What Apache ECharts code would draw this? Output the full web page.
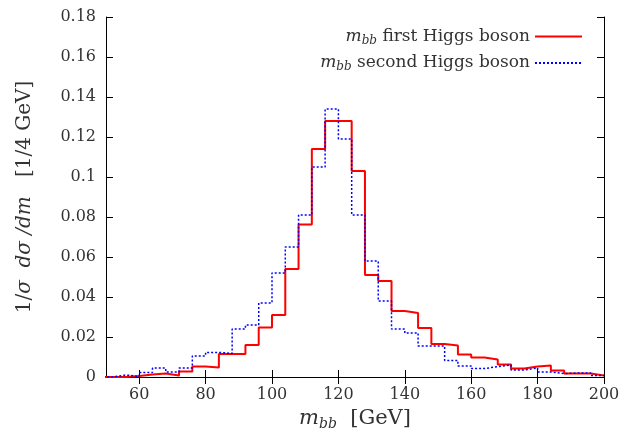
<!DOCTYPE html>
<html>
<head>
<meta charset="utf-8">
<script src="https://cdn.jsdelivr.net/npm/echarts@6/dist/echarts.min.js"></script>
<style>
  html, body { margin: 0; padding: 0; background: #fff; }
  #chart { width: 622px; height: 432px; }
</style>
</head>
<body>
<div id="chart"></div>
<script>
// bin left edges, 4 GeV wide
const binEdges = [48, 52, 56, 60, 64, 68, 72, 76, 80, 84, 88, 92, 96, 100, 104, 108, 112, 116, 120, 124,
  128, 132, 136, 140, 144, 148, 152, 156, 160, 164, 168, 172, 176, 180, 184, 188, 192, 196]
const lastEdge = 200

const firstHiggs = [0, 0, 0.0005, 0.0012, 0.0018, 0.0008, 0.0028, 0.0052, 0.0048, 0.0115, 0.0115, 0.016, 0.0247, 0.031,
  0.054, 0.0763, 0.114, 0.128, 0.128, 0.103, 0.051, 0.048, 0.033, 0.032, 0.0245, 0.0165, 0.0158, 0.0113,
  0.0098, 0.0088, 0.0063, 0.0043, 0.0052, 0.0058, 0.0032, 0.0018, 0.0018, 0.0008]
const secondHiggs = [0, 0.001, 0.0003, 0.0022, 0.0045, 0.0025, 0.0045, 0.0105, 0.0123, 0.0118, 0.024, 0.026, 0.037, 0.052,
  0.065, 0.081, 0.105, 0.134, 0.119, 0.081, 0.058, 0.038, 0.024, 0.022, 0.0155, 0.0155, 0.0083, 0.0055,
  0.0042, 0.0052, 0.006, 0.0035, 0.0045, 0.0025, 0.0017, 0.002, 0.002, 0.0007]

const xTicks = [60, 80, 100, 120, 140, 160, 180, 200]

const font = 'DejaVu Serif'
const textColor = '#333'

function histo (vals) {
  let pts = binEdges.map((x, i) => [x, vals[i]])
  pts.push([lastEdge, vals[vals.length - 1]])
  return pts
}

const legendRich = {
  m: { fontFamily: font, fontStyle: 'italic', fontSize: 17, color: textColor, lineHeight: 20 },
  s: { fontFamily: font, fontStyle: 'italic', fontSize: 12, color: textColor, verticalAlign: 'bottom', lineHeight: 20 },
  r: { fontFamily: font, fontSize: 17, color: textColor, lineHeight: 20 }
}

let chart = echarts.init(document.getElementById('chart'))
chart.setOption({
  animation: false,
  grid: { left: 106, right: 18, top: 17, bottom: 55, outerBoundsMode: 'none' },
  legend: {
    orient: 'vertical',
    right: 34,
    top: 23,
    align: 'right',
    itemWidth: 47,
    itemHeight: 12,
    itemGap: 8,
    data: ['first', 'second'],
    formatter: name => '{m|m}{s|bb}{r| ' + name + ' Higgs boson}',
    itemStyle: { opacity: 0 },
    textStyle: { rich: legendRich }
  },
  xAxis: [
    {
      type: 'value',
      min: 50,
      max: 200,
      position: 'bottom',
      name: '{m|m}{s|bb}{r|  [GeV]}',
      nameLocation: 'middle',
      nameGap: 26,
      nameTextStyle: {
        rich: {
          m: { fontFamily: font, fontStyle: 'italic', fontSize: 21, color: textColor, lineHeight: 26 },
          s: { fontFamily: font, fontStyle: 'italic', fontSize: 14, color: textColor, verticalAlign: 'bottom', lineHeight: 26 },
          r: { fontFamily: font, fontSize: 21, color: textColor, lineHeight: 26 }
        }
      },
      axisLine: { lineStyle: { color: '#000', width: 1 } },
      axisTick: { inside: true, length: 7, customValues: xTicks, lineStyle: { color: '#000' } },
      axisLabel: { customValues: xTicks, margin: 10, fontFamily: font, fontSize: 16, color: textColor },
      splitLine: { show: false }
    },
    {
      type: 'value',
      min: 50,
      max: 200,
      position: 'top',
      axisLine: { lineStyle: { color: '#000', width: 1 } },
      axisTick: { inside: true, length: 7, customValues: xTicks, lineStyle: { color: '#000' } },
      axisLabel: { show: false },
      splitLine: { show: false }
    }
  ],
  yAxis: [
    {
      type: 'value',
      min: 0,
      max: 0.18,
      interval: 0.02,
      position: 'left',
      name: '{r|1/}{i|σ  dσ /dm}{r|   [1/4 GeV]}',
      nameLocation: 'middle',
      nameGap: 71,
      nameTextStyle: {
        rich: {
          r: { fontFamily: font, fontSize: 20, color: textColor },
          i: { fontFamily: font, fontStyle: 'italic', fontSize: 20, color: textColor }
        }
      },
      axisLine: { show: true, lineStyle: { color: '#000', width: 1 } },
      axisTick: { show: true, inside: true, length: 7, lineStyle: { color: '#000' } },
      axisLabel: { margin: 10, fontFamily: font, fontSize: 16, color: textColor },
      splitLine: { show: false }
    },
    {
      type: 'value',
      min: 0,
      max: 0.18,
      interval: 0.02,
      position: 'right',
      axisLine: { show: true, lineStyle: { color: '#000', width: 1 } },
      axisTick: { show: true, inside: true, length: 7, lineStyle: { color: '#000' } },
      axisLabel: { show: false },
      splitLine: { show: false }
    }
  ],
  series: [
    {
      name: 'first',
      type: 'line',
      step: 'end',
      symbol: 'none',
      data: histo(firstHiggs),
      lineStyle: { color: '#ff0000', width: 2 },
      itemStyle: { color: '#ff0000' },
      z: 3
    },
    {
      name: 'second',
      type: 'line',
      step: 'end',
      symbol: 'none',
      data: histo(secondHiggs),
      lineStyle: { color: '#0000ff', width: 1.5, type: [2, 2] },
      itemStyle: { color: '#0000ff' },
      z: 4
    }
  ]
})
</script>
</body>
</html>
